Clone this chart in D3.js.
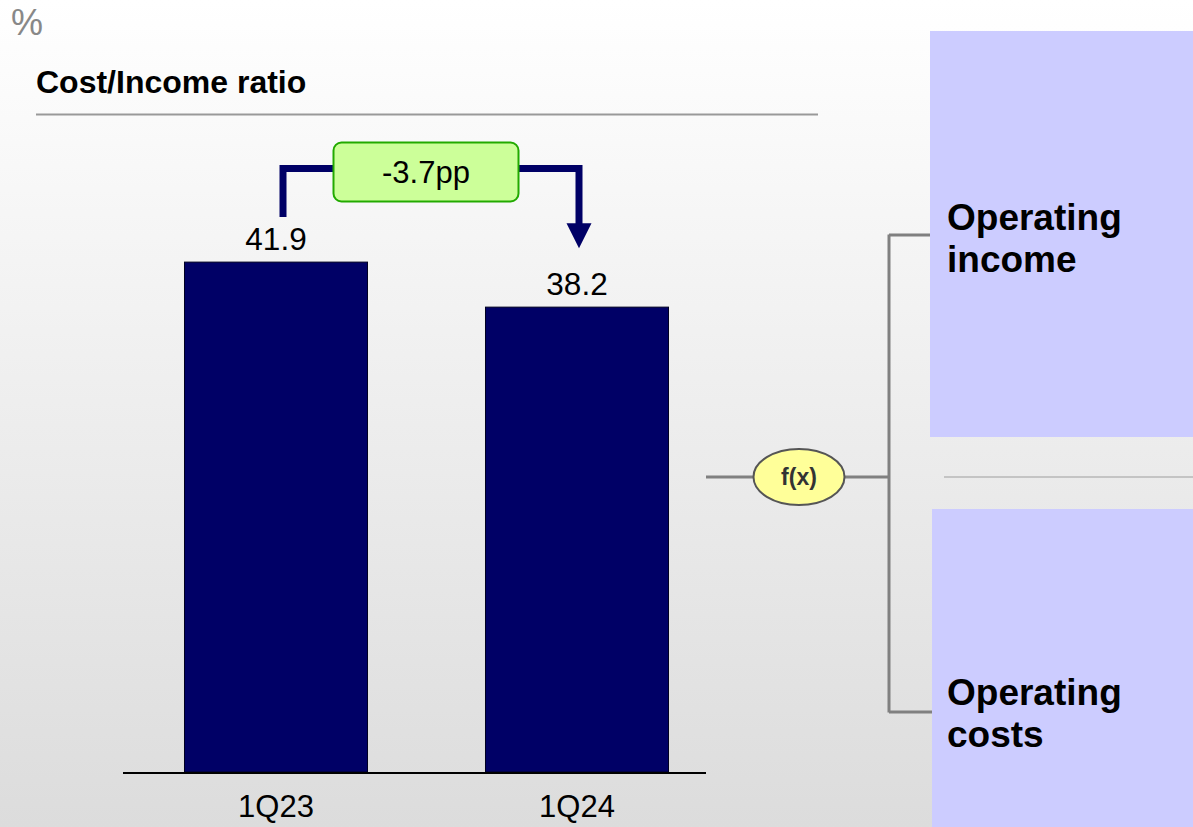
<!DOCTYPE html>
<html>
<head>
<meta charset="utf-8">
<script src="https://cdn.jsdelivr.net/npm/d3@7"></script>
<style>
  html, body { margin: 0; padding: 0; background: #fff; }
  svg { display: block; font-family: Arial, "Liberation Sans", sans-serif; }
</style>
</head>
<body>
<svg id="chart" width="1193" height="827"></svg>
<script>
// Cost/Income ratio by quarter
const categories = ["1Q23", "1Q24"];
const ratioValues = [41.9, 38.2];
const unitLabel = "%";
const chartTitle = "Cost/Income ratio";
const driverLabels = [["Operating", "income"], ["Operating", "costs"]];
const functionLabel = "f(x)";

const W = 1193, H = 827;
const svg = d3.select("#chart");

// background: soft vertical gradient
const defs = svg.append("defs");
const grad = defs.append("linearGradient").attr("id", "bg").attr("x1", 0).attr("y1", 0).attr("x2", 0).attr("y2", 1);
grad.append("stop").attr("offset", "0%").attr("stop-color", "#ffffff");
grad.append("stop").attr("offset", "100%").attr("stop-color", "#dcdcdc");
svg.append("rect").attr("width", W).attr("height", H).attr("fill", "url(#bg)");

// scales
const x = d3.scaleBand().domain(categories).range([125.5, 727.5])
  .paddingInner(0.392).paddingOuter(0.196);
const y = d3.scaleLinear().domain([0, 54.07]).range([772, 114]);

// header
svg.append("text").attr("x", 11).attr("y", 35).attr("font-size", 36)
  .attr("fill", "#888").text(unitLabel);
svg.append("text").attr("x", 36).attr("y", 93).attr("font-size", 32)
  .attr("font-weight", "bold").attr("fill", "#000").text(chartTitle);
svg.append("line").attr("x1", 36).attr("x2", 818).attr("y1", 114.5).attr("y2", 114.5)
  .attr("stroke", "#999").attr("stroke-width", 2);

// bars
const data = categories.map((c, i) => ({ cat: c, value: ratioValues[i] }));
svg.append("g").selectAll("rect").data(data).join("rect")
  .attr("x", d => x(d.cat))
  .attr("y", d => y(d.value))
  .attr("width", x.bandwidth())
  .attr("height", d => y(0) - y(d.value))
  .attr("fill", "#000066")
  .attr("stroke", "#000022").attr("stroke-width", 1);

// value labels
svg.append("g").selectAll("text").data(data).join("text")
  .attr("x", d => x(d.cat) + x.bandwidth() / 2)
  .attr("y", d => y(d.value) - 12)
  .attr("text-anchor", "middle").attr("font-size", 31.5).attr("fill", "#000")
  .text(d => d.value.toFixed(1));

// baseline
svg.append("line").attr("x1", 123).attr("x2", 706).attr("y1", y(0) + 1).attr("y2", y(0) + 1)
  .attr("stroke", "#000").attr("stroke-width", 2);

// category axis
const xAxis = svg.append("g").attr("transform", `translate(0,${y(0)})`)
  .call(d3.axisBottom(x).tickSize(0).tickPadding(0));
xAxis.select(".domain").remove();
xAxis.selectAll("text").attr("font-size", 31).attr("fill", "#000")
  .attr("font-family", "Arial, 'Liberation Sans', sans-serif")
  .attr("dy", null).attr("y", 45);

// change bracket arrow
const navy = "#000066";
const xl = x(categories[0]) + x.bandwidth() / 2 + 7;
const xr = x(categories[1]) + x.bandwidth() / 2 + 2;
const yTop = 168.5;
svg.append("path")
  .attr("d", `M${xl},${y(ratioValues[0]) - 45} V${yTop} H${xr} V${y(ratioValues[1]) - 83}`)
  .attr("fill", "none").attr("stroke", navy).attr("stroke-width", 7)
  .attr("stroke-linejoin", "miter");
svg.append("path")
  .attr("d", `M${xr - 12.5},${y(ratioValues[1]) - 84} L${xr + 12.5},${y(ratioValues[1]) - 84} L${xr},${y(ratioValues[1]) - 59} Z`)
  .attr("fill", navy);

const delta = ratioValues[1] - ratioValues[0];
svg.append("rect").attr("x", 333.5).attr("y", 142.5).attr("width", 185).attr("height", 59)
  .attr("rx", 8).attr("fill", "#ccff99").attr("stroke", "#22aa00").attr("stroke-width", 2);
svg.append("text").attr("x", 426).attr("y", 183).attr("text-anchor", "middle")
  .attr("font-size", 31).attr("fill", "#000")
  .text((delta < 0 ? "-" : "+") + Math.abs(delta).toFixed(1) + "pp");

// driver tree connectors
const grey = "#808080";
const cy = 477;
svg.append("line").attr("x1", 706).attr("x2", 754).attr("y1", cy).attr("y2", cy)
  .attr("stroke", grey).attr("stroke-width", 3);
svg.append("path").attr("d", `M845,${cy} H889 M889,234.5 V712.5 M889,235 H931 M889,712 H933`)
  .attr("fill", "none").attr("stroke", grey).attr("stroke-width", 3);

svg.append("ellipse").attr("cx", 799).attr("cy", cy).attr("rx", 45.5).attr("ry", 28)
  .attr("fill", "#ffff99").attr("stroke", "#555").attr("stroke-width", 2);
svg.append("text").attr("x", 799).attr("y", cy + 8).attr("text-anchor", "middle")
  .attr("font-size", 23).attr("font-weight", "bold").attr("fill", "#333").text(functionLabel);

// driver boxes
const boxes = [
  { x: 930, y: 31, h: 406, lines: driverLabels[0], base: 230 },
  { x: 932, y: 509, h: 318, lines: driverLabels[1], base: 705 }
];
svg.append("g").selectAll("rect").data(boxes).join("rect")
  .attr("x", d => d.x).attr("y", d => d.y).attr("width", d => W - d.x).attr("height", d => d.h)
  .attr("fill", "#ccccff");
svg.append("line").attr("x1", 944).attr("x2", W).attr("y1", cy).attr("y2", cy)
  .attr("stroke", "#c4c4c4").attr("stroke-width", 2);

boxes.forEach(b => {
  const t = svg.append("text").attr("x", 947).attr("y", b.base)
    .attr("font-size", 37).attr("font-weight", "bold").attr("fill", "#000");
  b.lines.forEach((ln, i) => {
    t.append("tspan").attr("x", 947).attr("y", b.base + i * 42).text(ln);
  });
});
</script>
</body>
</html>
